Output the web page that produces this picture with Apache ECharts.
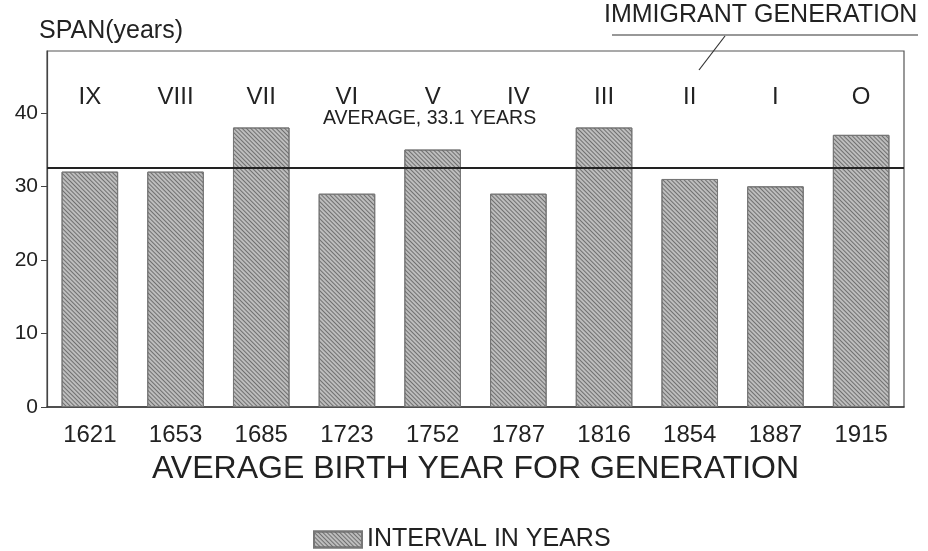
<!DOCTYPE html>
<html><head><meta charset="utf-8">
<script src="https://cdn.jsdelivr.net/npm/echarts@6/dist/echarts.min.js"></script>
<style>html,body{margin:0;padding:0;background:#fff}#c{width:928px;height:551px}</style>
</head><body><div id="c"></div>
<script>
const years = ['1621','1653','1685','1723','1752','1787','1816','1854','1887','1915'];
const generations = ['IX','VIII','VII','VI','V','IV','III','II','I','O'];
const spans = [32, 32, 38, 29, 35, 29, 38, 31, 30, 37];
const averageLine = 32.5;
const averageText = 'AVERAGE, 33.1 YEARS';
const yTicks = [0, 10, 20, 30, 40];

const FONT = '"Liberation Sans", Arial, sans-serif';
const chart = echarts.init(document.getElementById('c'), null, {renderer:'canvas'});
chart.setOption({
  animation: false,
  backgroundColor: '#fff',
  aria: {enabled: true, decal: {show: true}},
  textStyle: {fontFamily: FONT, color: '#222'},
  grid: {left: 47, right: 24, top: 51, bottom: 144, show: true, borderColor: '#555', borderWidth: 1.2},
  xAxis: [{
    type: 'category', data: years, position: 'bottom',
    axisLine: {show: true, lineStyle: {color: '#333', width: 1.5}},
    axisTick: {show: true, inside: true, alignWithLabel: true, length: 5, lineStyle: {color: '#333'}},
    axisLabel: {fontSize: 24, color: '#222', margin: 16, fontFamily: FONT},
    name: 'AVERAGE BIRTH YEAR FOR GENERATION', nameLocation: 'middle', nameGap: 46,
    nameTextStyle: {fontSize: 32, color: '#222', fontFamily: FONT}
  }, {
    type: 'category', data: generations, position: 'top',
    axisLine: {show: false}, axisTick: {show: false},
    axisLabel: {inside: true, margin: 34, fontSize: 24, color: '#222', fontFamily: FONT}
  }],
  yAxis: {
    type: 'value', min: 0, max: 48.4, interval: 10,
    axisLine: {show: true, lineStyle: {color: '#444', width: 1.2}},
    axisTick: {show: true, length: 6, lineStyle: {color: '#444'}, customValues: yTicks},
    splitLine: {show: false},
    axisLabel: {fontSize: 21, color: '#222', margin: 9, fontFamily: FONT, customValues: yTicks},
    name: 'SPAN(years)', nameLocation: 'end', nameGap: 7,
    nameTextStyle: {fontSize: 25, color: '#222', align: 'left', padding: [0, 0, 0, -8], fontFamily: FONT}
  },
  legend: {
    top: 522, left: 308, itemWidth: 48, itemHeight: 16, itemGap: 8,
    icon: 'rect',
    textStyle: {fontSize: 25, color: '#222', fontFamily: FONT},
    data: ['INTERVAL IN YEARS']
  },
  series: [{
    name: 'INTERVAL IN YEARS', type: 'bar', data: spans, barWidth: '66%',
    itemStyle: {
      color: '#bdbdbd', borderColor: '#777', borderWidth: 1,
      decal: {symbol: 'rect', symbolSize: 1, dashArrayX: [[1, 0]], dashArrayY: [1, 2], rotation: Math.PI / 4, color: 'rgba(60,60,60,0.6)'}
    },
    markLine: {
      silent: true, symbol: 'none',
      lineStyle: {color: '#222', width: 2, type: 'solid'},
      label: {show: false},
      data: [{yAxis: averageLine}]
    }
  }],
  graphic: [
    {type: 'text', left: 323, top: 109, style: {text: averageText, fontSize: 19.5, fill: '#222', fontFamily: FONT}},
    {type: 'text', left: 604, top: 3, style: {text: 'IMMIGRANT GENERATION', fontSize: 25, fill: '#222', fontFamily: FONT}},
    {type: 'line', shape: {x1: 612, y1: 35, x2: 918, y2: 35}, style: {stroke: '#333', lineWidth: 1.2}},
    {type: 'line', shape: {x1: 725, y1: 36, x2: 699, y2: 70}, style: {stroke: '#333', lineWidth: 1.2}}
  ]
});
</script></body></html>
